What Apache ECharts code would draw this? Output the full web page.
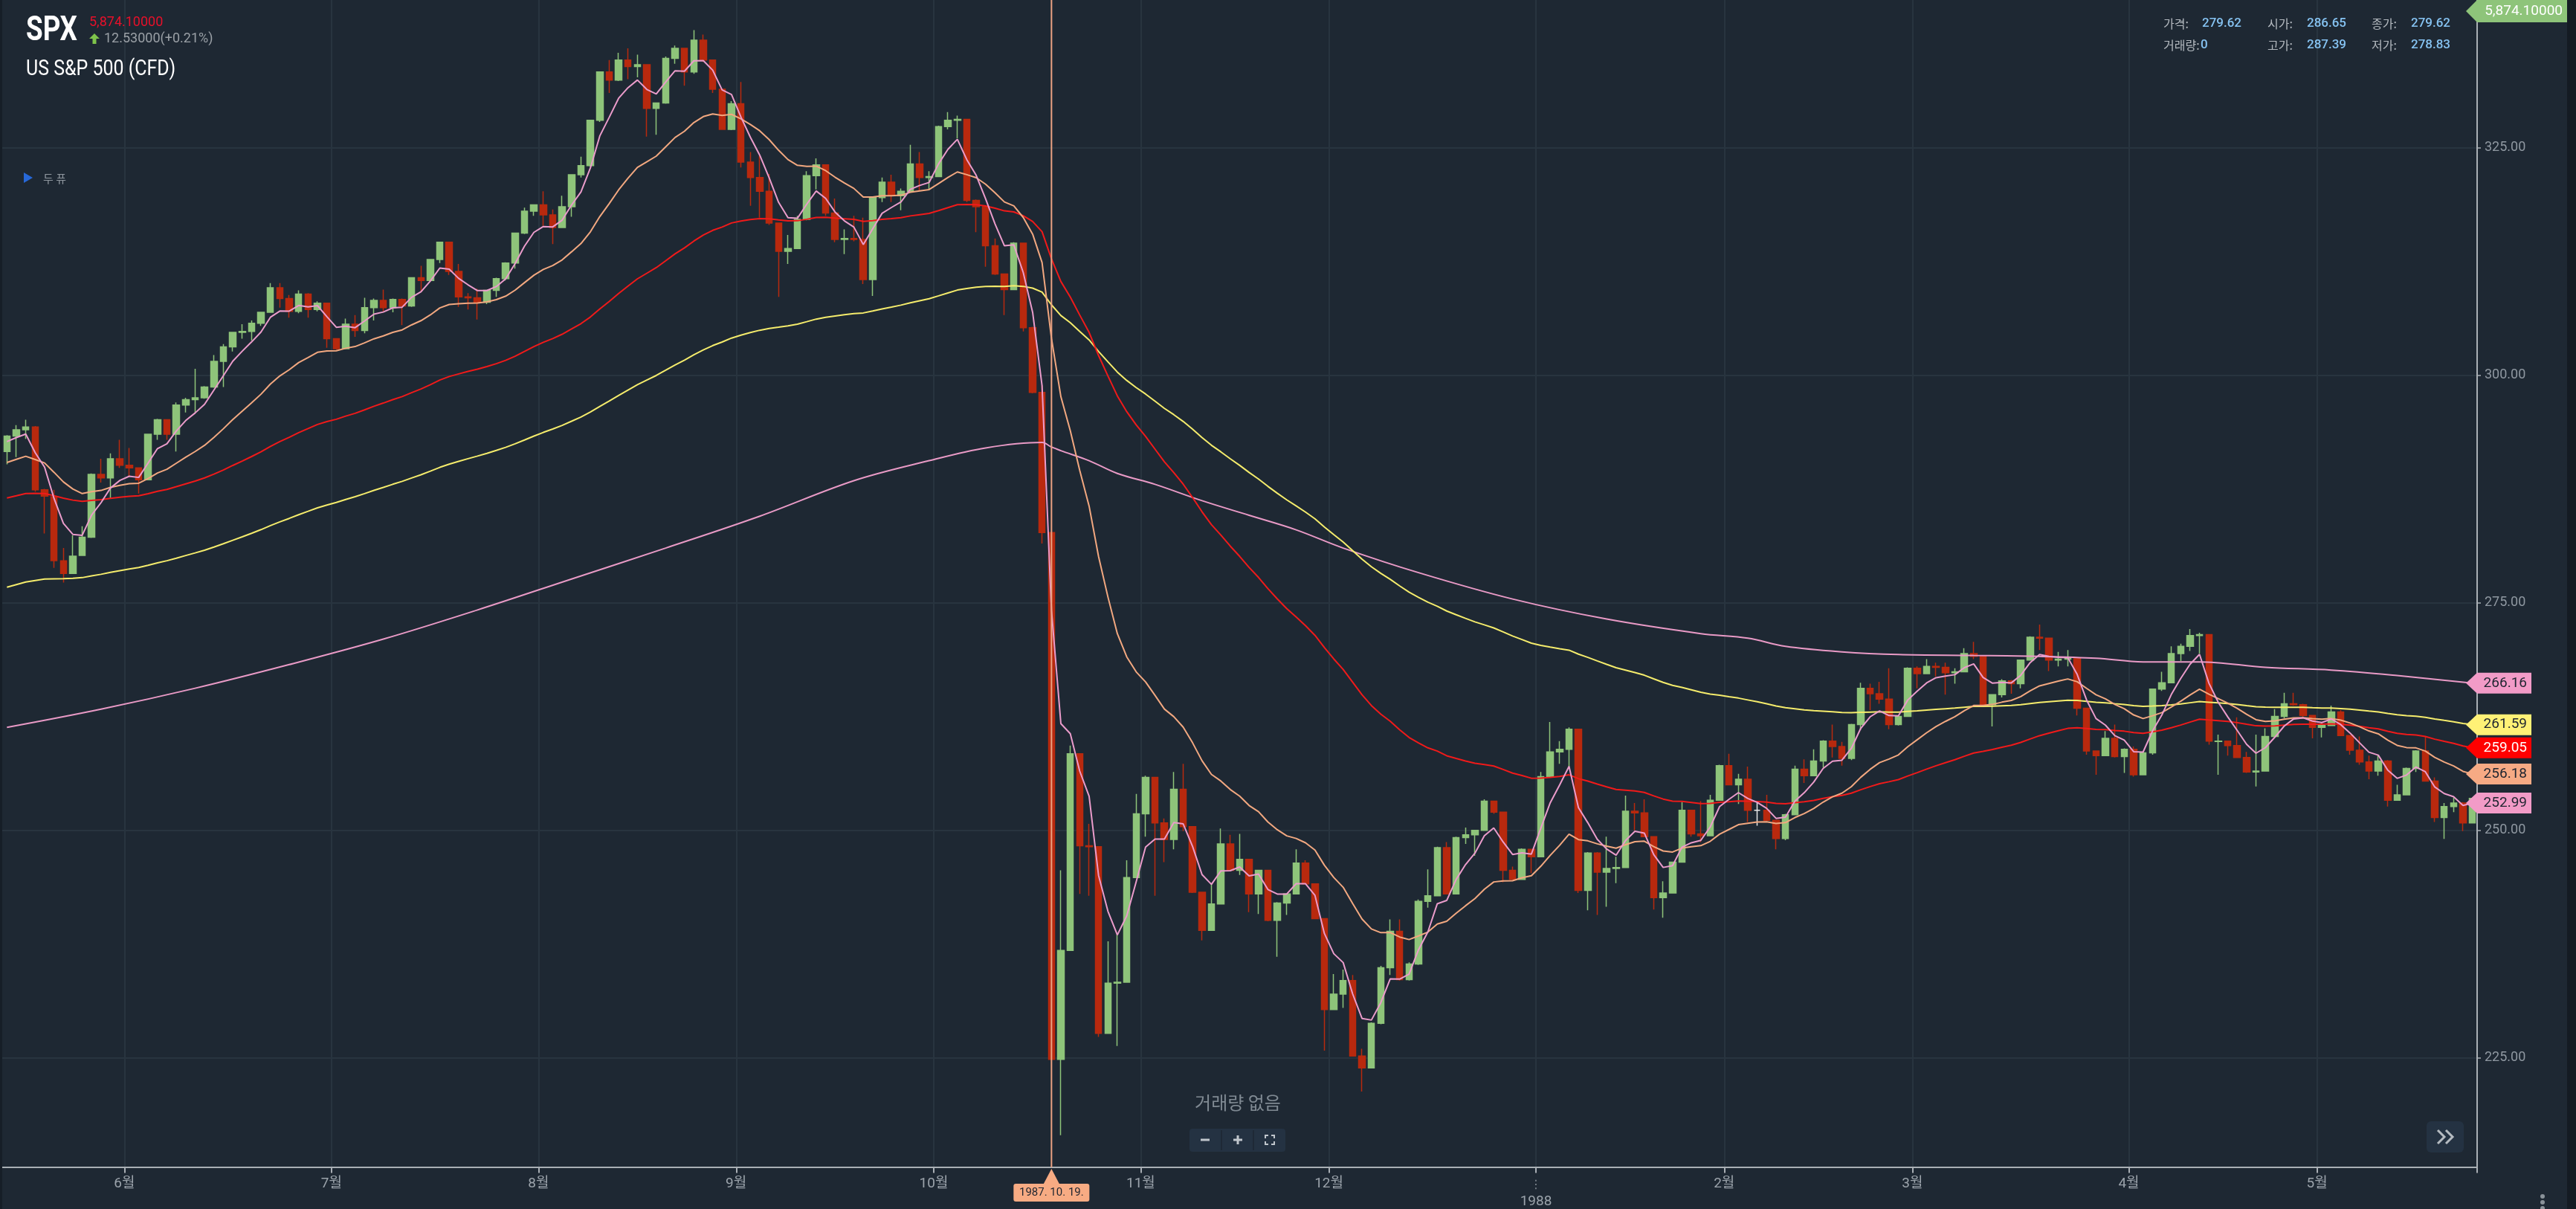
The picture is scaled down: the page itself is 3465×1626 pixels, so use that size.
<!DOCTYPE html>
<html><head><meta charset="utf-8">
<script src="https://cdn.jsdelivr.net/npm/echarts@6.0.0/dist/echarts.min.js"></script>
<style>html,body{margin:0;padding:0;background:#1e2833;overflow:hidden}#c{width:3465px;height:1626px}</style>
</head><body><div id="c"></div>
<script>
// ---------- DATA ----------
// trading days per month
const tradingMonths = [
 [1987,5,[12,13,14,15,18,19,20,21,22,26,27,28,29]],
 [1987,6,[1,2,3,4,5,8,9,10,11,12,15,16,17,18,19,22,23,24,25,26,29,30]],
 [1987,7,[1,2,6,7,8,9,10,13,14,15,16,17,20,21,22,23,24,27,28,29,30,31]],
 [1987,8,[3,4,5,6,7,10,11,12,13,14,17,18,19,20,21,24,25,26,27,28,31]],
 [1987,9,[1,2,3,4,8,9,10,11,14,15,16,17,18,21,22,23,24,25,28,29,30]],
 [1987,10,[1,2,5,6,7,8,9,12,13,14,15,16,19,20,21,22,23,26,27,28,29,30]],
 [1987,11,[2,3,4,5,6,9,10,11,12,13,16,17,18,19,20,23,24,25,27,30]],
 [1987,12,[1,2,3,4,7,8,9,10,11,14,15,16,17,18,21,22,23,24,28,29,30,31]],
 [1988,1,[4,5,6,7,8,11,12,13,14,15,18,19,20,21,22,25,26,27,28,29]],
 [1988,2,[1,2,3,4,5,8,9,10,11,12,16,17,18,19,22,23,24,25,26,29]],
 [1988,3,[1,2,3,4,7,8,9,10,11,14,15,16,17,18,21,22,23,24,25,28,29,30,31]],
 [1988,4,[4,5,6,7,8,11,12,13,14,15,18,19,20,21,22,25,26,27,28,29]],
 [1988,5,[2,3,4,5,6,9,10,11,12,13,16,17,18,19,20,23,24]]
];
// [open, high, low, close]
const d_1987_05 = [[291.6,293.4,290.2,293.3],[293.3,294.5,291.0,294.0],[294.0,295.1,293.0,294.3],[294.3,294.4,287.2,287.4],[287.4,287.5,282.6,286.7],[286.65,287.39,278.83,279.62],[279.6,281.0,277.2,278.2],[278.2,282.4,278.2,280.1],[280.2,283.4,280.2,282.2],[282.2,289.2,282.1,289.1],[289.1,290.8,288.2,288.7],[288.7,291.4,286.4,290.8],[290.8,292.9,289.8,290.1]];
const d_1987_06 = [[290.1,292.0,288.8,289.8],[289.8,289.8,287.0,288.5],[288.5,293.5,288.5,293.5],[293.5,295.2,292.9,295.1],[295.1,295.1,292.9,293.5],[293.5,297.0,291.6,296.7],[296.7,297.5,295.9,297.3],[297.3,300.7,295.9,297.5],[297.5,298.8,297.4,298.7],[298.7,302.2,298.6,301.5],[301.5,303.4,298.7,303.1],[303.1,304.7,302.6,304.7],[304.7,305.6,304.0,304.8],[304.8,306.0,303.8,305.7],[305.7,306.9,305.4,306.9],[306.9,310.1,306.9,309.6],[309.6,310.1,307.4,308.4],[308.4,308.8,306.3,307.0],[307.0,309.3,306.8,308.9],[308.9,309.0,306.3,307.2],[307.2,308.1,307.0,307.9],[307.9,307.9,303.0,304.0]];
const d_1987_07 = [[304.0,304.0,302.8,302.9],[302.9,306.2,302.9,305.6],[305.6,306.6,304.2,304.9],[304.9,308.5,304.6,307.4],[307.4,308.4,306.0,308.2],[308.2,309.4,307.0,307.4],[307.4,308.4,306.9,308.3],[308.3,308.4,305.5,307.6],[307.6,310.7,307.5,310.7],[310.7,312.0,309.1,310.4],[310.4,312.7,310.4,312.7],[312.7,314.6,312.3,314.6],[314.6,314.6,311.0,311.4],[311.4,312.2,307.5,308.6],[308.6,309.0,307.2,308.5],[308.5,309.5,306.1,308.0],[308.0,309.3,307.8,309.3],[309.3,310.7,308.6,310.6],[310.6,312.4,310.4,312.3],[312.3,315.6,311.7,315.6],[315.6,318.4,315.5,318.0],[318.0,318.7,317.5,318.7]];
const d_1987_08 = [[318.7,320.2,316.4,317.6],[317.6,318.2,314.4,316.2],[316.2,319.7,316.2,318.5],[318.5,322.0,317.4,322.0],[322.0,324.0,321.7,323.0],[323.0,328.0,322.9,328.0],[328.0,333.3,327.8,333.3],[333.3,334.6,331.0,332.4],[332.4,335.4,332.3,334.6],[334.6,335.9,332.5,333.9],[333.9,335.2,332.7,334.1],[334.1,334.1,326.2,329.3],[329.3,329.9,326.4,329.9],[329.9,335.0,329.8,334.8],[334.8,336.2,334.2,335.9],[335.9,335.9,331.8,333.3],[333.3,337.9,333.1,336.8],[336.8,337.4,334.4,334.6],[334.6,334.6,331.0,331.4],[331.4,331.4,327.0,327.0],[327.0,330.1,326.9,329.8]];
const d_1987_09 = [[329.8,332.2,322.8,323.4],[323.4,324.5,318.6,321.7],[321.7,324.1,317.3,320.2],[320.2,322.1,316.5,316.7],[316.7,316.7,308.6,313.6],[313.6,315.4,312.2,313.9],[313.9,317.5,313.9,317.1],[317.1,322.4,317.0,321.9],[321.9,323.8,320.4,323.1],[323.1,323.1,317.5,317.8],[317.8,319.4,314.6,314.9],[314.9,316.0,313.3,315.0],[315.0,317.5,314.7,314.9],[314.9,317.3,310.0,310.5],[310.5,319.5,308.7,319.5],[319.5,321.7,319.0,321.2],[321.2,322.0,319.0,319.7],[319.7,320.5,318.1,320.2],[320.2,325.3,320.2,323.2],[323.2,324.5,320.3,321.7],[321.7,322.4,320.3,321.8]];
const d_1987_10 = [[321.8,327.4,321.8,327.3],[327.3,328.9,327.0,328.0],[328.0,328.5,326.0,328.1],[328.1,328.1,319.0,319.2],[319.2,319.3,315.7,318.5],[318.5,318.6,311.9,314.2],[314.2,315.0,311.0,311.1],[311.1,311.1,306.6,309.4],[309.4,314.6,309.4,314.5],[314.5,314.5,304.8,305.2],[305.2,305.3,298.0,298.1],[298.1,298.9,281.5,282.7],[282.7,282.7,224.8,224.84],[224.84,245.6,216.5,236.8],[236.8,259.3,236.8,258.4],[258.4,258.4,243.0,248.3],[248.3,250.7,242.8,248.2],[248.2,248.2,227.3,227.7],[227.7,237.8,227.7,233.2],[233.2,238.6,226.3,233.3],[233.3,246.7,233.3,244.8],[244.8,254.0,244.8,251.8]];
const d_1987_11 = [[251.8,256.0,249.3,255.8],[255.8,255.8,242.8,250.8],[250.8,251.3,246.5,249.0],[249.0,256.4,247.9,254.5],[254.5,257.3,249.9,250.4],[250.4,250.4,243.1,243.2],[243.2,243.2,237.9,239.0],[239.0,244.2,239.0,241.9],[241.9,250.2,241.9,248.5],[248.5,249.5,245.6,245.6],[245.6,249.6,245.1,246.8],[246.8,246.8,241.0,243.0],[243.0,245.6,240.8,245.6],[245.6,245.6,240.0,240.1],[240.1,242.1,236.1,242.0],[242.0,243.0,240.7,243.0],[243.0,247.9,243.0,246.4],[246.4,246.7,244.1,244.1],[244.1,244.1,240.3,240.3],[240.3,240.3,225.8,230.3]];
const d_1987_12 = [[230.3,234.2,230.3,232.0],[232.0,234.7,230.5,233.5],[233.5,234.1,225.2,225.2],[225.2,226.0,221.3,223.9],[223.9,228.9,223.9,228.8],[228.8,235.1,228.7,234.9],[234.9,240.2,234.1,238.9],[238.9,240.2,233.5,233.6],[233.6,235.5,233.5,235.3],[235.3,242.4,235.2,242.2],[242.2,245.7,241.5,242.8],[242.8,248.2,242.8,248.1],[248.1,248.7,243.0,243.0],[243.0,249.3,243.0,249.2],[249.2,250.3,248.5,249.5],[249.5,250.0,247.2,250.0],[250.0,253.4,250.0,253.2],[253.2,253.2,251.8,252.0],[252.0,252.0,244.3,245.6],[245.6,246.0,244.6,244.6],[244.6,248.0,244.6,247.9],[247.9,247.9,245.3,247.1]];
const d_1988_01 = [[247.1,256.4,247.1,255.9],[255.9,261.9,255.9,258.6],[258.6,259.8,257.3,258.9],[258.9,261.3,256.8,261.1],[261.1,261.1,243.1,243.4],[243.4,247.6,241.2,247.5],[247.5,247.6,240.7,245.4],[245.4,249.3,241.6,245.8],[245.8,247.1,244.2,245.9],[245.9,253.8,245.9,252.1],[252.1,253.0,250.0,251.9],[251.9,253.4,249.3,249.3],[249.3,249.3,241.3,242.6],[242.6,244.4,240.4,243.1],[243.1,246.5,243.1,246.5],[246.5,253.1,246.5,252.2],[252.2,252.2,249.3,249.6],[249.6,253.2,248.7,249.4],[249.4,253.9,249.4,253.3],[253.3,257.2,253.3,257.1]];
const d_1988_02 = [[257.1,258.4,255.0,255.0],[255.0,256.2,252.9,255.6],[255.6,257.0,250.9,252.2],[252.2,253.1,250.5,252.2],[252.2,253.9,251.0,251.1],[251.1,251.1,247.9,249.1],[249.1,251.8,248.9,251.7],[251.7,257.1,251.7,256.7],[256.7,257.8,255.2,256.0],[256.0,258.9,256.0,257.6],[257.6,259.9,256.9,259.8],[259.8,261.6,258.0,259.2],[259.2,259.7,257.1,257.9],[257.9,261.7,257.7,261.6],[261.6,266.2,261.0,265.6],[265.6,266.1,263.2,265.0],[265.0,266.3,263.9,264.4],[264.4,267.8,261.1,261.6],[261.6,262.6,261.5,262.5],[262.5,267.9,262.5,267.8]];
const d_1988_03 = [[267.8,268.0,265.6,267.2],[267.2,268.8,267.2,268.0],[268.0,268.4,266.9,267.9],[267.9,268.4,264.9,267.3],[267.3,267.8,266.1,267.4],[267.4,270.0,267.4,269.4],[269.4,270.7,268.8,269.1],[269.1,269.2,263.8,263.8],[263.8,264.9,261.4,264.9],[264.9,266.6,264.6,266.4],[266.4,266.5,265.0,266.1],[266.1,268.7,265.6,268.7],[268.7,271.3,268.7,271.2],[271.2,272.6,269.8,271.1],[271.1,271.1,267.5,268.7],[268.7,269.6,268.0,268.8],[268.8,269.8,268.0,268.9],[268.9,268.9,262.6,263.4],[263.4,263.4,258.3,258.7],[258.7,258.7,256.1,258.2],[258.2,260.9,258.2,260.1],[260.1,261.6,258.0,258.1],[258.1,259.0,256.3,258.9]];
const d_1988_04 = [[258.9,259.2,255.9,256.1],[256.1,258.6,256.1,258.5],[258.5,265.5,258.3,265.5],[265.5,267.4,265.3,266.2],[266.2,270.2,266.2,269.4],[269.4,270.5,268.6,270.2],[270.2,272.1,269.7,271.4],[271.4,271.7,269.4,271.5],[271.5,271.5,259.4,259.8],[259.75,260.5,256.1,259.8],[259.8,259.8,258.2,259.3],[259.3,262.4,258.0,258.0],[258.0,258.6,256.3,256.4],[256.4,260.5,254.8,256.5],[256.5,261.2,256.5,260.3],[260.3,263.3,260.3,262.5],[262.5,265.1,262.3,263.9],[263.9,265.1,263.7,263.8],[263.8,263.9,262.4,262.6],[262.6,262.6,260.1,261.3]];
const d_1988_05 = [[261.3,261.8,260.2,261.5],[261.5,263.7,261.5,263.0],[263.0,263.2,260.4,260.4],[260.4,260.4,258.3,258.8],[258.8,260.3,257.2,257.5],[257.5,258.2,255.6,256.5],[256.5,258.3,256.0,257.6],[257.6,257.7,252.6,253.3],[253.3,255.0,253.3,253.9],[253.9,256.9,253.9,256.8],[256.8,258.8,256.4,258.7],[258.7,260.3,255.4,255.4],[255.4,255.8,250.9,251.4],[251.4,253.0,249.05,252.6],[252.6,253.6,252.0,253.0],[253.0,253.1,249.9,250.8],[250.8,253.5,250.8,253.5]];
const monthCandles = [d_1987_05,d_1987_06,d_1987_07,d_1987_08,d_1987_09,d_1987_10,d_1987_11,d_1987_12,d_1988_01,d_1988_02,d_1988_03,d_1988_04,d_1988_05];

// moving-average (EMA) periods and their values at the first visible day
const emaPeriods = [5, 20, 60, 120];
const emaStartValues = [292.7, 290.4, 286.5, 276.7];
const emaColors = ['#eb9ccb', '#f2a880', '#f01a1a', '#f5ec6c'];
// long average line, read point by point [dayIndex, value]
const longAvgPoints = [[0,261.3],[10,263.3],[20,265.6],[30,268.2],[40,271.0],[50,274.2],[60,277.6],[70,281.0],[80,284.5],[90,288.4],[98,290.6],[104,292.0],[110,292.6],[111,292.1],[112,291.7],[115,290.6],[118,289.2],[122,288.0],[127,286.2],[132,284.6],[137,283.0],[142,281.0],[150,278.3],[160,275.4],[170,273.2],[180,271.6],[185,271.1],[189,270.2],[195,269.6],[201,269.3],[209,269.2],[216,269.1],[222,268.9],[227,268.5],[233,268.5],[240,267.9],[247,267.6],[254,267.0],[262,266.16]];
const longAvgColor = '#e99ac6';
// price tags on the right axis
const tagValues = [266.16, 261.59, 259.05, 256.18, 252.99];
const tagFills = ['#f29bc7', '#fff176', '#ff0000', '#f6aa84', '#f29bc7'];
const tagTextColors = ['#1e2530', '#1e2530', '#ffffff', '#1e2530', '#1e2530'];
// crosshair date and info-box day
const crossDate = '1987-10-19';
const infoDayIndex = 5;

// ---------- BUILD ----------
const cats = [], ohlc = [];
tradingMonths.forEach(([y, m, days], k) => {
  days.forEach((d, j) => {
    cats.push(y + '-' + String(m).padStart(2, '0') + '-' + String(d).padStart(2, '0'));
    ohlc.push(monthCandles[k][j]);
  });
});
const closes = ohlc.map(r => r[3]);
function ema(period, start) {
  const a = 2 / (period + 1); const out = []; let prev = start;
  closes.forEach((c, i) => { if (i > 0) prev = prev + a * (c - prev); out.push(+prev.toFixed(3)); });
  return out;
}
const isMonthStart = (idx) => idx > 0 && cats[idx].slice(0, 7) !== cats[idx - 1].slice(0, 7);
const monthFn = (idx) => isMonthStart(idx);

const UP = '#8ec47a', DOWN = '#b8290e';
const candleData = ohlc.map(([o, h, l, c]) => o === c
  ? { value: [o, c, l, h], itemStyle: { color: '#e8e8e8', borderColor: '#e8e8e8', color0: '#e8e8e8', borderColor0: '#e8e8e8' } }
  : [o, c, l, h]);

const GRID_L = 3, GRID_R = 133;
const chart = echarts.init(document.getElementById('c'), null, { renderer: 'canvas', width: 3465, height: 1626 });

const lineSeries = emaPeriods.map((p, k) => ({
  type: 'line', name: 'EMA' + p, xAxisIndex: 0, yAxisIndex: 0,
  data: ema(p, emaStartValues[k]), symbol: 'none', showSymbol: false, silent: true,
  lineStyle: { color: emaColors[k], width: 2 }, z: 5 - k * 0.1
}));

chart.setOption({
  animation: false,
  backgroundColor: '#1e2833',
  grid: [
    { left: GRID_L, right: GRID_R, top: -107.7, height: 1836.5, containLabel: false, outerBoundsMode: 'none' },
    { left: GRID_L, right: GRID_R, top: 0, height: 1569.5, containLabel: false, outerBoundsMode: 'none' }
  ],
  xAxis: [
    { type: 'category', gridIndex: 0, data: cats, boundaryGap: true, show: false },
    { type: 'category', gridIndex: 1, data: cats, boundaryGap: true, position: 'bottom',
      axisLine: { show: true, lineStyle: { color: '#a9afb5', width: 2 } },
      axisTick: { show: true, interval: monthFn, length: 8, lineStyle: { color: '#a9afb5', width: 2 } },
      splitLine: { show: true, interval: monthFn, lineStyle: { color: '#28343f', width: 2 } },
      axisLabel: {
        show: true, interval: monthFn, margin: 12, color: '#9ba3ab', fontSize: 19, lineHeight: 22,
        fontFamily: 'Roboto, "Noto Sans CJK KR"', padding: [0, 13, 0, 0], hideOverlap: false,
        formatter: (v) => { const m = +v.slice(5, 7); return m === 1 ? '{d|⋮}\n{y|' + v.slice(0, 4) + '}' : m + '월'; },
        rich: { d: { fontSize: 16, lineHeight: 24, color: '#7f8891', fontFamily: 'DejaVu Sans' },
                y: { fontSize: 19, lineHeight: 22, color: '#9ba3ab', fontFamily: 'Roboto' } }
      }
    }
  ],
  yAxis: [
    { type: 'value', gridIndex: 0, position: 'right', min: 200, max: 350, interval: 25, scale: true,
      axisLine: { show: false },
      axisTick: { show: true, length: 5, lineStyle: { color: '#a9afb5', width: 1.5 } },
      axisLabel: { show: true, color: '#8f98a1', fontSize: 18, fontFamily: 'Roboto', margin: 10, formatter: v => v.toFixed(2) },
      splitLine: { show: true, lineStyle: { color: '#28343f', width: 2 } } },
    { type: 'value', gridIndex: 1, position: 'right', min: 0, max: 1,
      axisLine: { show: true, lineStyle: { color: '#a9afb5', width: 2 } },
      axisTick: { show: false }, axisLabel: { show: false }, splitLine: { show: false } }
  ],
  series: [
    { type: 'candlestick', name: 'SPX', xAxisIndex: 0, yAxisIndex: 0, data: candleData, barWidth: 9, z: 2,
      itemStyle: { color: UP, color0: DOWN, borderColor: UP, borderColor0: DOWN, borderWidth: 1.5 } },
    { type: 'line', name: 'long', xAxisIndex: 0, yAxisIndex: 0, data: longAvgPoints, smooth: 0.35,
      symbol: 'none', showSymbol: false, silent: true, lineStyle: { color: longAvgColor, width: 2 }, z: 4 },
    ...lineSeries.slice().reverse()
  ]
});

// ---------- OVERLAYS (positions via the chart's scales) ----------
const g = [];
const RX = 3465 - GRID_R; // right edge of plot
g.push({ type: 'rect', shape: { x: 0, y: 0, width: GRID_L, height: 1626 }, style: { fill: '#161e27' }, z: 100 });
g.push({ type: 'rect', shape: { x: 3453, y: 0, width: 12, height: 1626 }, style: { fill: '#141b23' }, z: 100 });

// title
g.push({ type: 'text', x: 35, y: 42, scaleX: 0.8, style: { text: 'SPX', font: 'bold 46px Roboto', fill: '#ffffff', textVerticalAlign: 'middle' }, z: 100 });
g.push({ type: 'text', x: 120, y: 30, style: { text: '5,874.10000', font: '18px Roboto', fill: '#e8102a', textVerticalAlign: 'middle' }, z: 100 });
g.push({ type: 'polygon', shape: { points: [[127, 45], [120, 52], [124.5, 52], [124.5, 59], [129.5, 59], [129.5, 52], [134, 52]] }, style: { fill: '#7ec44b' }, z: 100 });
g.push({ type: 'text', x: 140, y: 52, style: { text: '12.53000(+0.21%)', font: '18px Roboto', fill: '#9aa0a6', textVerticalAlign: 'middle' }, z: 100 });
g.push({ type: 'text', x: 35, y: 94, scaleX: 0.86, style: { text: 'US S&P 500 (CFD)', font: '29px Roboto', fill: '#ffffff', textVerticalAlign: 'middle' }, z: 100 });
g.push({ type: 'polygon', shape: { points: [[32, 232], [44, 239], [32, 246]] }, style: { fill: '#2768d8' }, z: 100 });
g.push({ type: 'text', x: 58, y: 240, style: { text: '두 퓨', font: '15px "Noto Sans CJK KR"', fill: '#8f979f', textVerticalAlign: 'middle' }, z: 100 });

// info box (values of the highlighted day)
const [iO, iH, iL, iC] = ohlc[infoDayIndex];
const infoRows = [
  [['가격:', iC.toFixed(2)], ['시가:', iO.toFixed(2)], ['종가:', iC.toFixed(2)]],
  [['거래량:', '0'], ['고가:', iH.toFixed(2)], ['저가:', iL.toFixed(2)]]
];
const infoLabelX = [2910, 3050, 3190], infoValX = [2962, 3103, 3243], infoY = [32, 61];
infoRows.forEach((row, r) => row.forEach(([lab, val], k) => {
  g.push({ type: 'text', x: infoLabelX[k], y: infoY[r], style: { text: lab, font: '16px "Noto Sans CJK KR"', fill: '#b3b9bf', textVerticalAlign: 'middle' }, z: 100 });
  g.push({ type: 'text', x: (r === 1 && k === 0) ? 2960 : infoValX[k], y: infoY[r], style: { text: val, font: '500 17px Roboto', fill: '#86c3f2', textVerticalAlign: 'middle' }, z: 100 });
}));

// current price tag (top right)
g.push({ type: 'polygon', shape: { points: [[RX - 15, 15], [RX, 0], [3453, 0], [3453, 30], [RX, 30]] }, style: { fill: '#8ec47a' }, z: 100 });
g.push({ type: 'text', x: 3447, y: 15, style: { text: '5,874.10000', font: '19px Roboto', fill: '#ffffff', textAlign: 'right', textVerticalAlign: 'middle' }, z: 101 });

// MA tags
tagValues.forEach((v, k) => {
  const y = chart.convertToPixel({ yAxisIndex: 0 }, v);
  g.push({ type: 'polygon', shape: { points: [[RX - 15, y], [RX, y - 14], [RX + 73, y - 14], [RX + 73, y + 14], [RX, y + 14]] }, style: { fill: tagFills[k] }, z: 100 });
  g.push({ type: 'text', x: RX + 67, y: y, style: { text: v.toFixed(2), font: '19px Roboto', fill: tagTextColors[k], textAlign: 'right', textVerticalAlign: 'middle' }, z: 101 });
});

// crosshair
const cx = chart.convertToPixel({ xAxisIndex: 1 }, crossDate);
g.push({ type: 'line', shape: { x1: cx, y1: 0, x2: cx, y2: 1570 }, style: { stroke: '#eba283', lineWidth: 2 }, z: 90 });
g.push({ type: 'polygon', shape: { points: [[cx, 1572], [cx - 11, 1593], [cx + 11, 1593]] }, style: { fill: '#f7ab83' }, z: 100 });
g.push({ type: 'rect', shape: { x: cx - 51, y: 1592, width: 102, height: 24, r: 3 }, style: { fill: '#f7ab83' }, z: 100 });
const cd = crossDate.split('-');
g.push({ type: 'text', x: cx, y: 1604, style: { text: cd[0] + '. ' + cd[1] + '. ' + cd[2] + '.', font: '15px Roboto', fill: '#1e2530', textAlign: 'center', textVerticalAlign: 'middle' }, z: 101 });

// volume placeholder + controls
g.push({ type: 'text', x: 1665, y: 1483, style: { text: '거래량 없음', font: '24px "Noto Sans CJK KR"', fill: '#808a93', textAlign: 'center', textVerticalAlign: 'middle' }, z: 100 });
g.push({ type: 'rect', shape: { x: 1600, y: 1518, width: 129, height: 31, r: 4 }, style: { fill: '#243242' }, z: 100 });
[1643, 1686].forEach(x => g.push({ type: 'line', shape: { x1: x, y1: 1520, x2: x, y2: 1547 }, style: { stroke: '#1c2733', lineWidth: 1.5 }, z: 101 }));
const ic = { stroke: '#c0c6cc', lineWidth: 3, fill: null };
g.push({ type: 'line', shape: { x1: 1615, y1: 1533, x2: 1627, y2: 1533 }, style: ic, z: 101 });
g.push({ type: 'line', shape: { x1: 1659, y1: 1533, x2: 1671, y2: 1533 }, style: ic, z: 101 });
g.push({ type: 'line', shape: { x1: 1665, y1: 1527, x2: 1665, y2: 1539 }, style: ic, z: 101 });
const ic2 = { stroke: '#c0c6cc', lineWidth: 2, fill: null };
[[[1702, 1531], [1702, 1527], [1706, 1527]], [[1710, 1527], [1714, 1527], [1714, 1531]], [[1702, 1535], [1702, 1539], [1706, 1539]], [[1710, 1539], [1714, 1539], [1714, 1535]]]
  .forEach(p => g.push({ type: 'polyline', shape: { points: p }, style: ic2, z: 101 }));

// ">>" button
g.push({ type: 'rect', shape: { x: 3264, y: 1508, width: 50, height: 42, r: 6 }, style: { fill: '#243242' }, z: 100 });
const ch = { stroke: '#b5bbc1', lineWidth: 3, fill: null };
g.push({ type: 'polyline', shape: { points: [[3279, 1520], [3288, 1529], [3279, 1538]] }, style: ch, z: 101 });
g.push({ type: 'polyline', shape: { points: [[3290, 1520], [3299, 1529], [3290, 1538]] }, style: ch, z: 101 });
// dots
[1609, 1617, 1625].forEach(y => g.push({ type: 'circle', shape: { cx: 3420, cy: y, r: 3 }, style: { fill: '#8a9299' }, z: 100 }));

chart.setOption({ graphic: g });
</script>
</body></html>
